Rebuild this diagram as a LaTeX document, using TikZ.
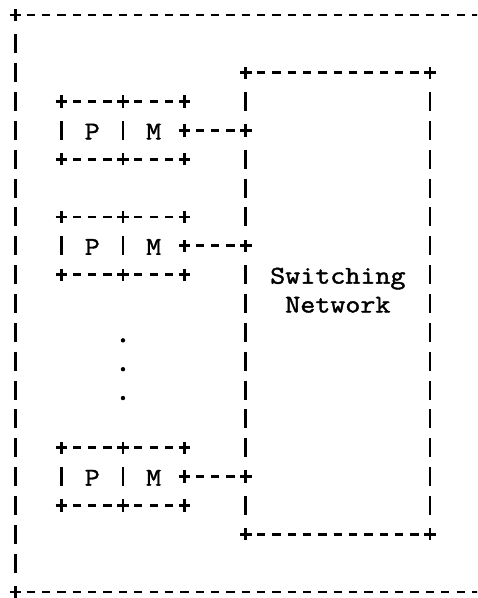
\documentclass[tikz,border=0pt]{standalone}
% typewriter face, widened and slightly heavier
\font\typefont="[lmmono12-regular.otf]:extend=1.14;embolden=1.5" at 12.8pt
\begin{document}
\begin{tikzpicture}[
  ascii/.style={line width=1.3pt, line cap=butt},
  % a row of typewriter dashes between two "+" corners
  hdash/.style={ascii, dash pattern=on 4.15pt off 3.525pt, shorten <=5.6pt, shorten >=5.6pt},
  % a column of typewriter bars between two "+" corners
  vdash/.style={ascii, dash pattern=on 9.5pt off 4.925pt, shorten <=9.675pt, shorten >=9.675pt},
  ttext/.style={font=\typefont, inner sep=0pt, anchor=base, yshift=-4.5pt},
  ellipsisdot/.style={circle, fill, inner sep=0pt, minimum size=2.2pt, yshift=-4pt},
]
\newcommand\plusat[1]{\draw[ascii] ([xshift=-2.925pt]#1) -- ([xshift=2.925pt]#1)
                                   ([yshift=-3.075pt]#1) -- ([yshift=3.075pt]#1);}
\fill[white] (0,0) rectangle (238.5pt,-299pt);
\useasboundingbox (0,0) rectangle (238.5pt,-299pt);
\clip (0,0) rectangle (238.5pt,-299pt);
% character grid: one unit = one column / one text line
\begin{scope}[shift={(7.75pt,-7.5pt)}, x=7.675pt, y=-14.425pt]
  % outer frame (continues past the right edge)
  \coordinate (o1) at (0,0);
  \coordinate (o2) at (0,20);
  \coordinate (o1e) at (32,0);
  \coordinate (o2e) at (32,20);
  \draw[hdash] (o1) -- (o1e);
  \draw[hdash] (o2) -- (o2e);
  \draw[vdash] (o1) -- (o2);
  \plusat{o1} \plusat{o2}

  % switching network box
  \coordinate (s1) at (15,2);
  \coordinate (s2) at (27,2);
  \coordinate (s3) at (15,18);
  \coordinate (s4) at (27,18);
  \draw[hdash] (s1) -- (s2);
  \draw[hdash] (s3) -- (s4);
  \draw[vdash] (s2) -- (s4);
  \plusat{s1} \plusat{s2} \plusat{s3} \plusat{s4}
  \node[ttext] (swtop) at (21,9) {Switching};
  \node[ttext] (swbot) at (21,10) {Network};

  % processor / memory units and their links to the network
  \foreach \i/\r in {1/3, 2/7, 3/15} {
    \coordinate (pm\i a) at (3,\r);
    \coordinate (pm\i b) at (7,\r);
    \coordinate (pm\i c) at (11,\r);
    \coordinate (pm\i d) at (3,\r+2);
    \coordinate (pm\i e) at (7,\r+2);
    \coordinate (pm\i f) at (11,\r+2);
    \coordinate (pm\i g) at (11,\r+1);
    \coordinate (sw\i) at (15,\r+1);
    \draw[hdash] (pm\i a) -- (pm\i b);
    \draw[hdash] (pm\i b) -- (pm\i c);
    \draw[hdash] (pm\i d) -- (pm\i e);
    \draw[hdash] (pm\i e) -- (pm\i f);
    \draw[vdash] (pm\i a) -- (pm\i d);
    \draw[vdash] (pm\i b) -- (pm\i e);
    \draw[hdash] (pm\i g) -- (sw\i);
    \foreach \k in {a,b,c,d,e,f,g} {\plusat{pm\i\k}}
    \plusat{sw\i}
    \node[ttext] (proc\i) at (5,\r+1) {P};
    \node[ttext] (mem\i) at (9,\r+1) {M};
  }
  % left side of the network box, broken at the link junctions
  \draw[vdash] (s1) -- (sw1);
  \draw[vdash] (sw1) -- (sw2);
  \draw[vdash] (sw2) -- (sw3);
  \draw[vdash] (sw3) -- (s3);

  % vertical ellipsis between the units
  \node[ellipsisdot] (dot1) at (7,11) {};
  \node[ellipsisdot] (dot2) at (7,12) {};
  \node[ellipsisdot] (dot3) at (7,13) {};
\end{scope}
\end{tikzpicture}
\end{document}
